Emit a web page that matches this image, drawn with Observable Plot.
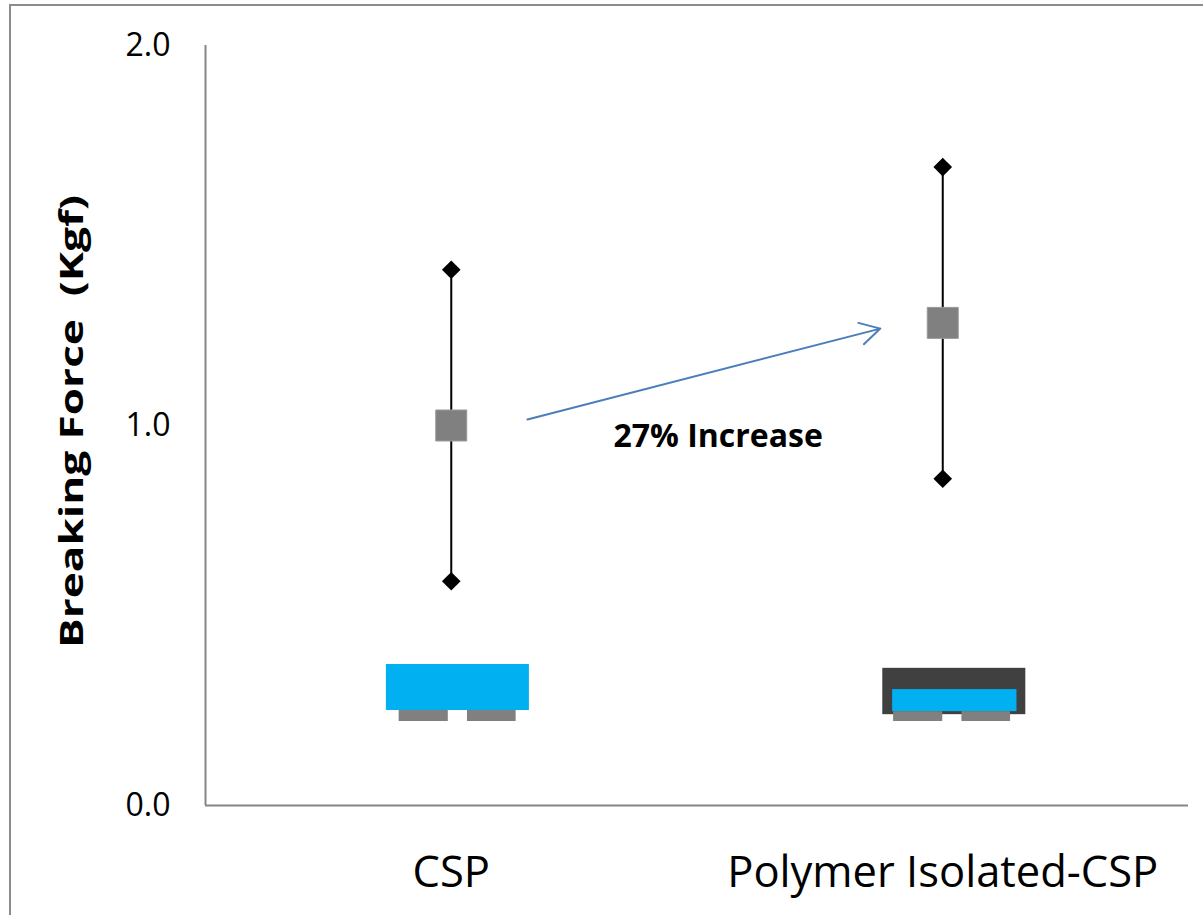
<!DOCTYPE html>
<html><head><meta charset="utf-8">
<script src="https://cdn.jsdelivr.net/npm/d3@7"></script>
<script src="https://cdn.jsdelivr.net/npm/@observablehq/plot@0.6"></script>
<style>
html,body{margin:0;padding:0;background:#fff;overflow:hidden}
#wrap{position:relative;width:1203px;height:915px;overflow:hidden}
#border{position:absolute;left:9px;top:4px;width:1300px;height:1000px;border-top:2px solid #8c8c8c;border-left:2px solid #8c8c8c;pointer-events:none}
</style></head>
<body><div id="wrap"><div id="chart"></div><div id="border"></div></div>
<script>
// Categories and error-bar statistics (Kgf)
const categories = ["CSP", "Polymer Isolated-CSP"];
const meanForce = [1.00, 1.27];
const lowForce = [0.59, 0.86];
const highForce = [1.41, 1.68];
const yTicks = [0, 1, 2];

// Small blocks below the error bars (category index, kind, offsets in category units, values in Kgf)
const blockCategory = [0, 0, 0, 1, 1, 1, 1];
const blockKind = ["blue", "grey", "grey", "dark", "blue", "grey", "grey"];
const blockLeft = [-0.132, -0.106, 0.033, -0.122, -0.102, -0.100, 0.039];
const blockRight = [0.159, -0.006, 0.132, 0.169, 0.151, 0.000, 0.138];
const blockTop = [0.371, 0.250, 0.250, 0.361, 0.305, 0.247, 0.247];
const blockBottom = [0.250, 0.221, 0.221, 0.239, 0.247, 0.221, 0.221];

// Annotation
const annotText = ["27% Increase"];
const annotX = [0.543];
const annotY = [0.971];
const arrowX = [0.155, 0.873];
const arrowY = [1.016, 1.255];
const yLabel = "Breaking Force\u00a0 (Kgf)";

const stats = categories.map((c, i) => ({i, mean: meanForce[i], low: lowForce[i], high: highForce[i]}));
const blocks = blockCategory.map((c, k) => ({
  x1: c + blockLeft[k], x2: c + blockRight[k], y1: blockBottom[k], y2: blockTop[k], kind: blockKind[k]
}));
const xDomain = [-0.5, categories.length - 0.5];

const chart = Plot.plot({
  width: 1203, height: 915,
  marginLeft: 205, marginRight: 15, marginTop: 45, marginBottom: 110,
  style: {fontFamily: "'Open Sans', sans-serif", color: "#000", background: "transparent"},
  x: {domain: xDomain},
  y: {domain: [0, 2]},
  color: {domain: ["dark", "blue", "grey"], range: ["#404040", "#00B0F0", "#808080"]},
  marks: [
    Plot.axisY({ticks: yTicks, tickFormat: d => d.toFixed(1), tickSize: 0, tickPadding: 35, fontSize: 32, label: null}),
    Plot.axisX({ticks: categories.map((c, i) => i), tickFormat: i => categories[i], tickSize: 0, tickPadding: 51, fontSize: 43.5, label: null}),
    Plot.rect(blocks, {x1: "x1", x2: "x2", y1: "y1", y2: "y2", fill: "kind"}),
    Plot.ruleX([xDomain[0]], {stroke: "#868686", strokeWidth: 2}),
    Plot.ruleY([0], {stroke: "#868686", strokeWidth: 2}),
    Plot.ruleX(stats, {x: "i", y1: "low", y2: "high", stroke: "#000", strokeWidth: 2}),
    Plot.dot(stats, {x: "i", y: "low", symbol: "diamond2", r: 8.4, fill: "#000"}),
    Plot.dot(stats, {x: "i", y: "high", symbol: "diamond2", r: 8.4, fill: "#000"}),
    Plot.dot(stats, {x: "i", y: "mean", symbol: "square", r: 17.5, fill: "#808080", stroke: "#9a9a9a", strokeWidth: 1}),
    Plot.arrow([0], {x1: () => arrowX[0], y1: () => arrowY[0], x2: () => arrowX[1], y2: () => arrowY[1],
      stroke: "#4A7EBB", strokeWidth: 2, headLength: 17, headAngle: 58}),
    Plot.text(annotText, {x: annotX, y: annotY, text: d => d, fontWeight: "bold", fontSize: 32}),
    Plot.text([yLabel], {frameAnchor: "left", rotate: -90, dx: -133, dy: -4, fontWeight: "bold", fontSize: 32})
  ]
});
document.getElementById("chart").appendChild(chart);
const labelLength = 453;
d3.select(chart).selectAll("text").filter(function() { return this.textContent === yLabel; })
  .attr("text-anchor", "start").attr("x", -labelLength / 2)
  .attr("textLength", labelLength).attr("lengthAdjust", "spacingAndGlyphs");
</script>
</body></html>
